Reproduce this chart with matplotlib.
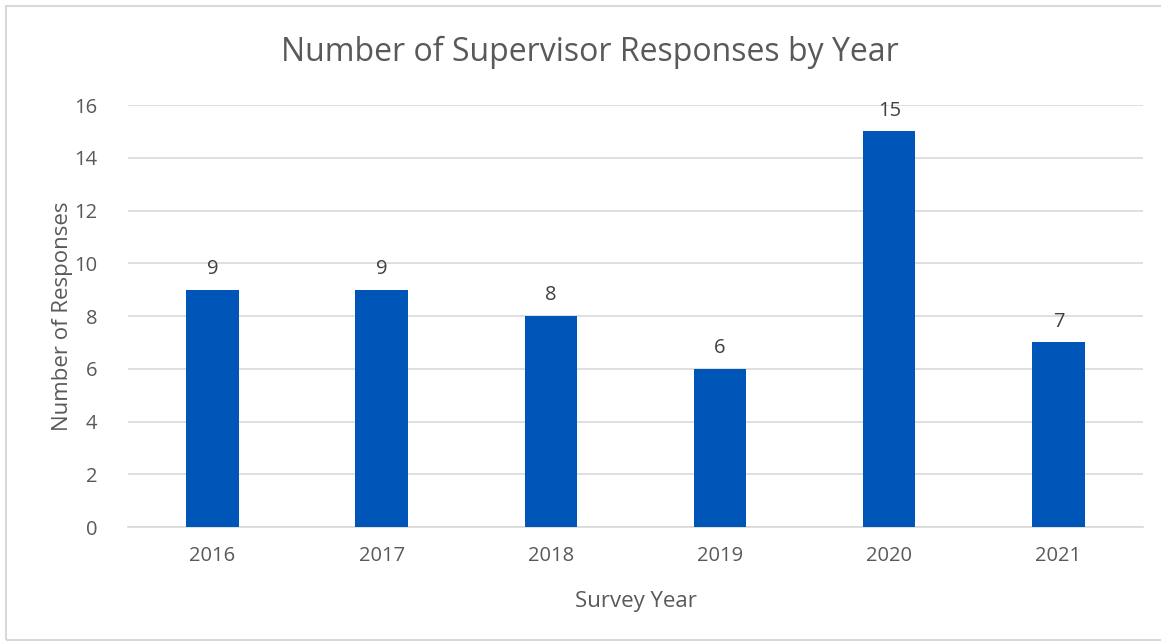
import matplotlib.pyplot as plt
from matplotlib.patches import Rectangle

years = ["2016", "2017", "2018", "2019", "2020", "2021"]
responses = [9, 9, 8, 6, 15, 7]

plt.rcParams["font.family"] = ["Open Sans", "DejaVu Sans"]
grey = "#595959"

fig = plt.figure(figsize=(11.61, 6.43), dpi=100)
ax = fig.add_axes([0.1102, 0.1804, 0.8743, 0.6563])

x = range(len(years))
bars = ax.bar(x, responses, width=0.31, color="#0056B8", zorder=3)
for xi, v in zip(x, responses):
    ax.text(xi, v + 0.4, str(v), ha="center", va="bottom", fontsize=14.5, color="#404040")

ax.set_xlim(-0.5, len(years) - 0.5)
ax.set_ylim(0, 16)
ax.set_yticks(range(0, 17, 2))
ax.set_xticks(list(x))
ax.set_xticklabels(years)
ax.grid(axis="y", color="#D9D9D9", linewidth=1.2, zorder=0)
for s in ["top", "right", "left"]:
    ax.spines[s].set_visible(False)
ax.spines["bottom"].set_color("#D9D9D9")
ax.spines["bottom"].set_linewidth(1.2)
ax.tick_params(length=0, labelsize=14.5, colors=grey, pad=14)
ax.tick_params(axis="y", pad=22)

ax.set_xlabel("Survey Year", fontsize=16, color=grey, labelpad=18)
ax.set_ylabel("Number of Responses", fontsize=16, color=grey, labelpad=1)
fig.text(0.508, 0.918, "Number of Supervisor Responses by Year", ha="center", va="center",
         fontsize=23, color=grey)

fig.patches.append(Rectangle((0.005, 0.004), 1.2, 0.987, transform=fig.transFigure,
                             fill=False, edgecolor="#D9D9D9", linewidth=1.5))

fig.savefig("out.png", dpi=100)
